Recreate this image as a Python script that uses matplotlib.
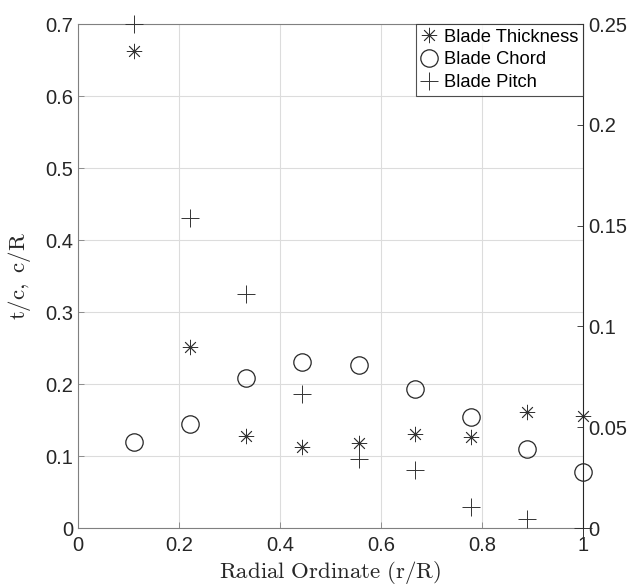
import matplotlib
matplotlib.use("Agg")
import matplotlib.pyplot as plt

plt.rcParams['font.family'] = ['Liberation Sans', 'DejaVu Sans']
plt.rcParams['mathtext.fontset'] = 'cm'

r_R = [1/9, 2/9, 3/9, 4/9, 5/9, 6/9, 7/9, 8/9, 1.0]
thickness = [0.663, 0.251, 0.128, 0.112, 0.118, 0.131, 0.127, 0.161, 0.155]
chord = [0.119, 0.145, 0.209, 0.231, 0.226, 0.193, 0.154, 0.110, 0.078]
pitch = [0.250, 0.154, 0.116, 0.0665, 0.034, 0.029, 0.0103, 0.0046, 0.0]

xticks = [0, 0.2, 0.4, 0.6, 0.8, 1]
xticklabels = ['0', '0.2', '0.4', '0.6', '0.8', '1']
yticks_left = [0, 0.1, 0.2, 0.3, 0.4, 0.5, 0.6, 0.7]
yticklabels_left = ['0', '0.1', '0.2', '0.3', '0.4', '0.5', '0.6', '0.7']
yticks_right = [0, 0.05, 0.1, 0.15, 0.2, 0.25]
yticklabels_right = ['0', '0.05', '0.1', '0.15', '0.2', '0.25']

fig = plt.figure(figsize=(6.4, 5.88), dpi=100)
ax = fig.add_axes([78/640, 1-528/588, (583-78)/640, (528-24)/588])
ax2 = ax.twinx()

mc = '#333333'
h1, = ax.plot(r_R, thickness, linestyle='none', marker=(8, 2, 0), markersize=11,
              markeredgewidth=0.6, color=mc, label='Blade Thickness', clip_on=False)
h2, = ax.plot(r_R, chord, linestyle='none', marker='o', markersize=12.5,
              markerfacecolor='none', markeredgewidth=0.9, markeredgecolor='#262626',
              label='Blade Chord', clip_on=False)
h3, = ax2.plot(r_R, pitch, linestyle='none', marker='+', markersize=13,
               markeredgewidth=0.7, color=mc, label='Blade Pitch', clip_on=False)

ax.set_xlim(0, 1)
ax.set_ylim(0, 0.7)
ax2.set_ylim(0, 0.25)
ax.set_xticks(xticks)
ax.set_xticklabels(xticklabels)
ax.set_yticks(yticks_left)
ax.set_yticklabels(yticklabels_left)
ax2.set_yticks(yticks_right)
ax2.set_yticklabels(yticklabels_right)

ax.grid(True, color='#dcdcdc', linewidth=0.8)
ax.set_axisbelow(True)

for a in (ax, ax2):
    a.tick_params(direction='in', length=4, width=0.6, labelsize=14.5, colors='#262626')
ax.tick_params(axis='x', pad=6)
ax.tick_params(axis='both', color='#808080')
ax2.tick_params(axis='y', color='#262626')

for s in ['left', 'bottom', 'top']:
    ax.spines[s].set_color('#808080')
    ax.spines[s].set_linewidth(0.8)
for s in ['left', 'bottom', 'top']:
    ax2.spines[s].set_visible(False)
ax2.spines['right'].set_color('#262626')
ax2.spines['right'].set_linewidth(0.8)
ax.spines['right'].set_visible(False)

ax.set_xlabel(r'$\mathrm{Radial\ Ordinate\ (r/R)}$', fontsize=16.5, labelpad=3, color='#262626')
ax.set_ylabel(r'$\mathrm{t/c,\ c/R}$', fontsize=16.5, labelpad=9, color='#262626')

leg = ax2.legend(handles=[h1, h2, h3], loc='upper right', fontsize=13.2,
                 frameon=True, fancybox=False, borderaxespad=0, handlelength=1.0,
                 handletextpad=0.3, borderpad=0.25, labelspacing=0.32)
leg.get_frame().set_edgecolor('#262626')
leg.get_frame().set_linewidth(0.8)

fig.savefig('out.png', dpi=100)
